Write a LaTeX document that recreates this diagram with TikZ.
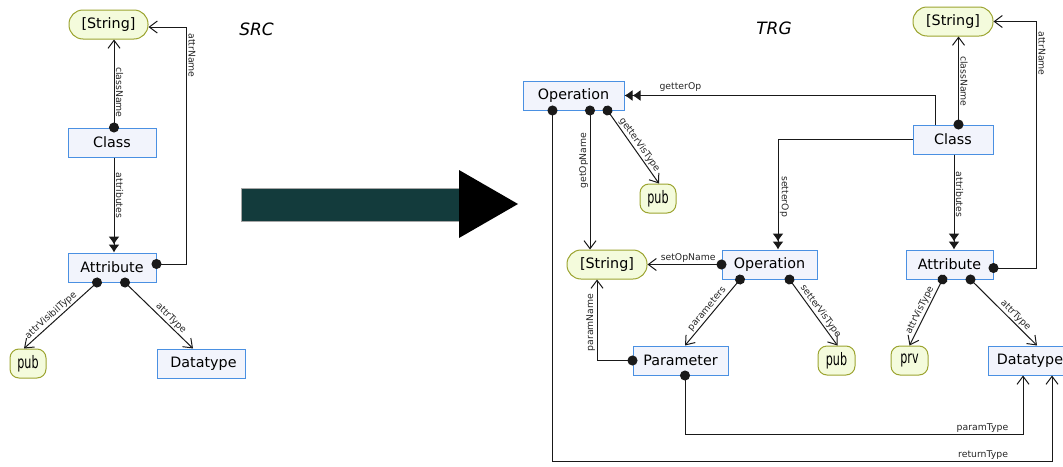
\documentclass[tikz,border=0pt]{standalone}
\usepackage{graphicx}
\usepackage{fontspec}
\setmainfont{DejaVu Sans}
\usetikzlibrary{arrows.meta,calc}

\definecolor{clsfill}{RGB}{242,244,252}
\definecolor{clsdraw}{RGB}{74,144,226}
\definecolor{valfill}{RGB}{244,251,220}
\definecolor{valdraw}{RGB}{156,164,48}
\definecolor{bigarrow}{RGB}{19,59,60}

% narrow, tall lettering used inside the enumeration literals
\newcommand\enumtxt[1]{\scalebox{0.78}[1.2]{#1}}

\tikzset{
  nodefont/.style={font=\fontsize{14.3}{17}\selectfont},
  cls/.style={nodefont, draw=clsdraw, fill=clsfill, line width=1pt,
    minimum height=29pt, inner sep=0pt},
  strv/.style={nodefont, draw=valdraw, fill=valfill, line width=1pt,
    minimum height=29pt, minimum width=80pt, rounded corners=14pt, inner sep=0pt},
  enumv/.style={nodefont, draw=valdraw, fill=valfill, line width=1pt,
    minimum height=29pt, minimum width=37pt, rounded corners=9pt, inner sep=0pt},
  conn/.style={line width=1pt, draw=black!90},
  refedge/.style={conn, {Circle[length=10pt]}-{Straight Barb[length=8pt,width=12pt]},
    shorten <=-5pt},
  contedge/.style={conn, -{Latex[length=8pt,width=11pt]Latex[length=8pt,width=11pt]}},
  lbl/.style={font=\fontsize{9.3}{11}\selectfont, inner sep=1.5pt, text=black!85},
  title/.style={font=\fontsize{17}{20}\selectfont\itshape},
}

\begin{document}
\begin{tikzpicture}[x=1pt,y=-1pt]
\useasboundingbox (0,0) rectangle (1063,466);

% ---------- source model ----------
\node[title] (src) at (256.5,29) {SRC};

\node[strv, minimum width=79pt] (sStr) at (108.5,24.5) {[String]};
\node[cls, minimum width=88pt] (sCls) at (112,142.5) {Class};
\node[cls, minimum width=88pt] (sAtt) at (112,267.5) {Attribute};
\node[enumv, minimum width=36pt] (sPub) at (28,363.5) {\enumtxt{pub}};
\node[cls, minimum width=88pt] (sDat) at (201,363.5) {\hspace{5pt}Datatype};

\draw[refedge] ([xshift=2pt]sCls.north) -- ([xshift=2pt]sCls.north |- sStr.south)
  node[lbl, pos=0.4, rotate=-90, anchor=south] {className};
\draw[contedge] ([xshift=2pt]sCls.south) -- ([xshift=2pt]sAtt.north)
  node[lbl, pos=0.4, rotate=-90, anchor=south] {attributes};
\draw[refedge] ([yshift=3.5pt]sAtt.east) -- ++(30,0) |- ([yshift=-2.5pt]sStr.east)
  node[lbl, pos=0.44, rotate=-90, anchor=south] {attrName};
\draw[refedge] ([xshift=-15pt]sAtt.south) -- ([xshift=-4pt]sPub.north)
  node[lbl, pos=0.57, sloped, above] {attrVisibilType};
\draw[refedge] ([xshift=13pt]sAtt.south) -- ([xshift=-8pt]sDat.north)
  node[lbl, pos=0.61, sloped, above] {attrType};

% ---------- transformation arrow ----------
\fill[bigarrow, draw=gray!70, line width=0.5pt] (241.5,188.5) rectangle (459,221);
\fill[black] (459,170) -- (518,204) -- (459,238) -- cycle;

% ---------- target model ----------
\node[title] (trg) at (774,28) {TRG};

\node[cls, minimum width=101pt] (tOp1) at (573.5,95.5) {Operation};
\node[enumv, minimum width=36pt] (tPub1) at (658,198.5) {\enumtxt{pub}};
\node[strv] (tStr2) at (607,264.5) {[String]};
\node[cls, minimum width=95pt] (tOp2) at (769.5,264.5) {Operation};
\node[cls, minimum width=95pt] (tPar) at (680.5,360.5) {Parameter};
\node[enumv] (tPub2) at (836.5,360.5) {\enumtxt{pub}};
\node[strv] (tStr1) at (953,21.5) {[String]};
\node[cls, minimum width=80pt] (tCls) at (953,139.5) {Class};
\node[cls, minimum width=87pt] (tAtt) at (949.5,264.5) {Attribute\hspace{8pt}};
\node[enumv] (tPrv) at (909.5,360.5) {\enumtxt{prv}};
\node[cls, minimum width=84pt] (tDat) at (1030,360.5) {Datatype\hspace{4pt}};

% class side
\draw[contedge] ([xshift=-18pt]tCls.north) |- (tOp1.east)
  node[lbl, pos=0.91, above, yshift=2pt] {getterOp};
\draw[contedge] (tCls.west) -| ([xshift=8.5pt]tOp2.north)
  node[lbl, pos=0.76, rotate=-90, anchor=south] {setterOp};
\draw[refedge] ([xshift=5.5pt]tCls.north) -- ([xshift=5.5pt]tCls.north |- tStr1.south)
  node[lbl, pos=0.49, rotate=-90, anchor=south] {className};
\draw[contedge] ([xshift=1pt]tCls.south) -- ([xshift=1pt]tCls.south |- tAtt.north)
  node[lbl, pos=0.42, rotate=-90, anchor=south] {attributes};

% attribute side
\draw[refedge] ([yshift=-3.5pt]tAtt.east) -- ++(43,0) |- (tStr1.east)
  node[lbl, pos=0.435, rotate=-90, anchor=south] {attrName};
\draw[refedge] ([xshift=-7pt]tAtt.south) -- (tPrv.north)
  node[lbl, pos=0.51, sloped, above] {attrVisType};
\draw[refedge] ([xshift=21pt]tAtt.south) -- ([xshift=7pt]tDat.north)
  node[lbl, pos=0.61, sloped, above] {attrType};

% getter operation
\draw[refedge] ([xshift=16.5pt]tOp1.south) -- ([xshift=-17pt]tStr2.north)
  node[lbl, pos=0.36, rotate=90, anchor=south] {getOpName};
\draw[refedge] ([xshift=34pt]tOp1.south) -- ([xshift=1pt]tPub1.north)
  node[lbl, pos=0.52, sloped, above] {getterVisType};
\draw[refedge] ([xshift=-21pt]tOp1.south) |- ([xshift=22pt,yshift=-86pt]tDat.south)
  node[lbl, pos=0.931, above] {returnType}
  -- ([xshift=22pt]tDat.south);

% setter operation
\draw[refedge] (tOp2.west) -- (tOp2.west -| tStr2.east)
  node[lbl, pos=0.45, above] {setOpName};
\draw[refedge] ([xshift=-29.5pt]tOp2.south) -- ([xshift=4.5pt]tPar.north)
  node[lbl, pos=0.51, sloped, above] {parameters};
\draw[refedge] ([xshift=20pt]tOp2.south) -- ([xshift=1pt]tPub2.north)
  node[lbl, pos=0.54, sloped, above] {setterVisType};

% parameter
\draw[refedge] (tPar.west) -| ([xshift=-10pt]tStr2.south)
  node[lbl, pos=0.735, rotate=90, anchor=south] {paramName};
\draw[refedge] ([xshift=4.5pt]tPar.south) |- ([xshift=-7pt,yshift=-59pt]tDat.south)
  node[lbl, pos=0.94, above] {paramType}
  -- ([xshift=-7pt]tDat.south);
\end{tikzpicture}
\end{document}
